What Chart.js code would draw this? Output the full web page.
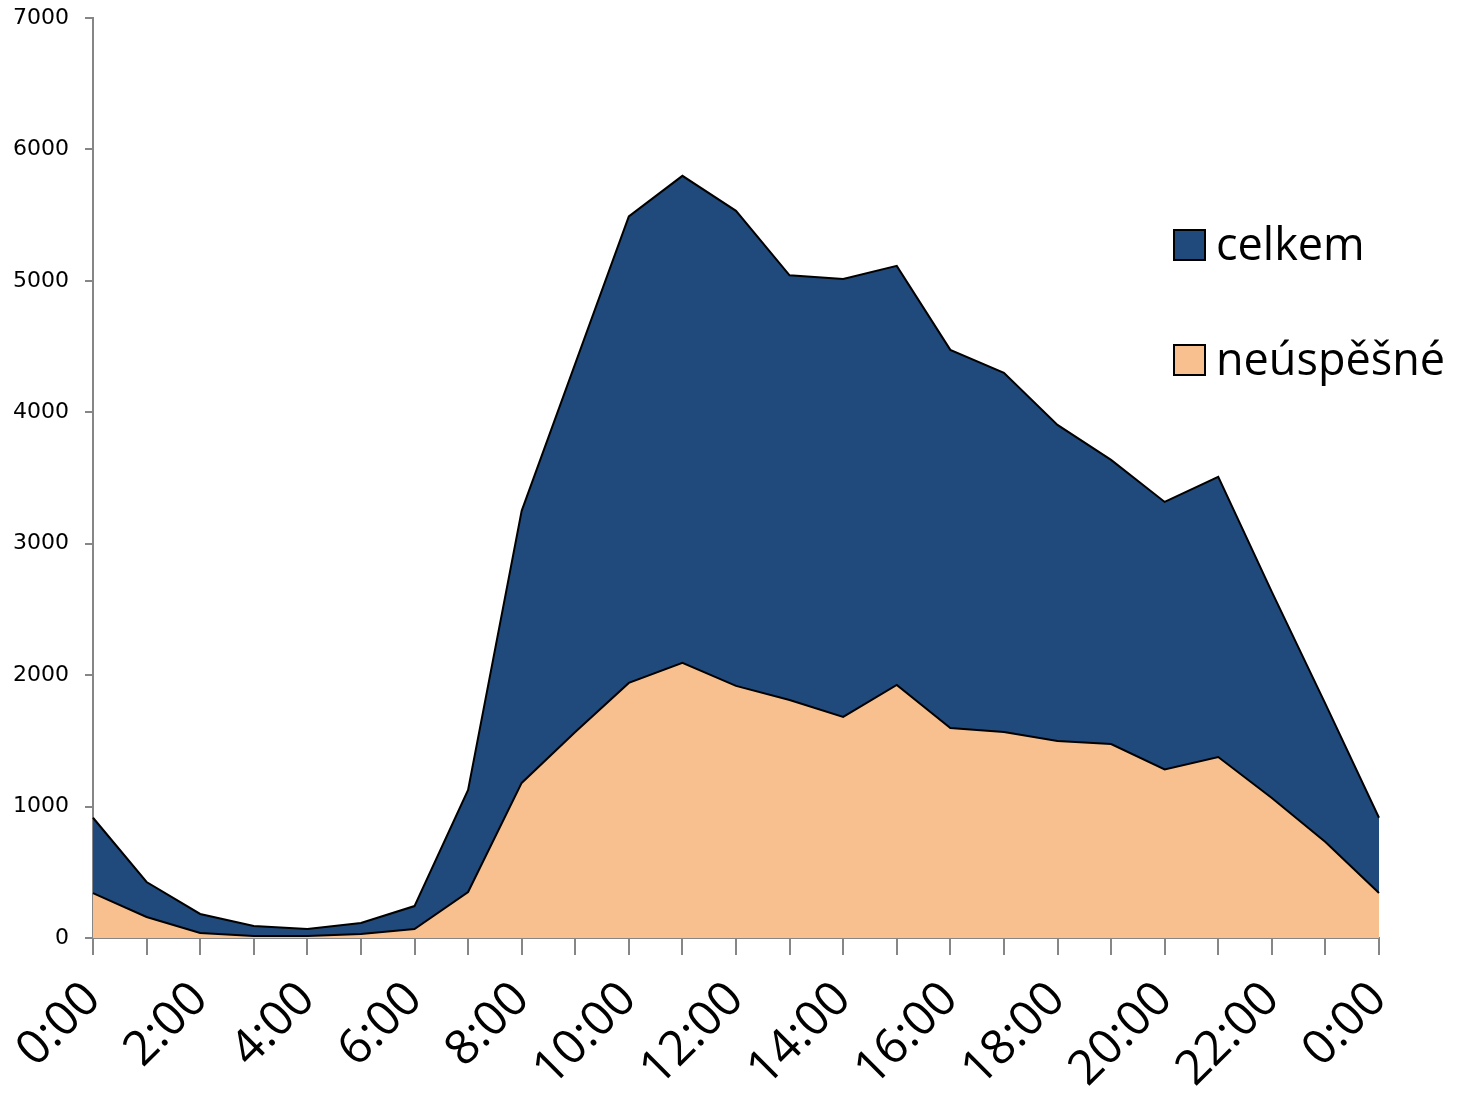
<!DOCTYPE html>
<html lang="cs">
<head>
  <meta charset="UTF-8" />
  <title>Hodinové rozložení</title>
  <script src="https://cdn.jsdelivr.net/npm/chart.js"></script>
  <style>
    body {
      margin: 0;
      background: #ffffff;
    }
    #wrap {
      width: 1461px;
      height: 1094px;
    }
  </style>
</head>
<body>

<div id="wrap">
  <canvas id="hodiny" width="1461" height="1094"></canvas>
</div>

<script>
  // hourly buckets, 0:00 through the next 0:00
  const hodiny = ['0:00', '1:00', '2:00', '3:00', '4:00', '5:00', '6:00', '7:00', '8:00', '9:00',
                  '10:00', '11:00', '12:00', '13:00', '14:00', '15:00', '16:00', '17:00', '18:00',
                  '19:00', '20:00', '21:00', '22:00', '23:00', '0:00'];
  const celkem = [915, 426, 183, 91, 68, 114, 243, 1126, 3250, 4370, 5490, 5799, 5533, 5042,
                  5015, 5114, 4475, 4300, 3904, 3638, 3318, 3508, 2633, 1781, 915];
  const neuspesne = [342, 160, 38, 15, 15, 30, 68, 350, 1180, 1568, 1941, 2093, 1918, 1811,
                     1682, 1925, 1598, 1568, 1499, 1476, 1282, 1377, 1065, 731, 342];
  const yTicks = [0, 1000, 2000, 3000, 4000, 5000, 6000, 7000];

  const axisGray = '#868686';

  // legend drawn inside the plot, top right
  const legendaUvnitr = {
    id: 'legendaUvnitr',
    afterDraw(chart) {
      const ctx = chart.ctx;
      const rows = [
        { ds: chart.data.datasets[0], y: 245 },
        { ds: chart.data.datasets[1], y: 360 }
      ];
      ctx.save();
      ctx.font = '45px "Open Sans"';
      ctx.textBaseline = 'alphabetic';
      rows.forEach(r => {
        ctx.fillStyle = r.ds.backgroundColor;
        ctx.fillRect(1174, r.y - 15, 31, 30);
        ctx.lineWidth = 2;
        ctx.strokeStyle = '#000';
        ctx.strokeRect(1174, r.y - 15, 31, 30);
        ctx.fillStyle = '#000';
        ctx.fillText(r.ds.label, 1216, r.y + 15);
      });
      ctx.restore();
    }
  };

  new Chart(document.getElementById('hodiny'), {
    type: 'line',
    data: {
      labels: hodiny,
      datasets: [
        {
          label: 'celkem',
          data: celkem,
          backgroundColor: '#214a7c',
          borderColor: '#000',
          borderWidth: 2,
          fill: 'origin',
          pointRadius: 0,
          tension: 0,
          order: 2
        },
        {
          label: 'neúspěšné',
          data: neuspesne,
          backgroundColor: '#f9c08f',
          borderColor: '#000',
          borderWidth: 2,
          fill: 'origin',
          pointRadius: 0,
          tension: 0,
          order: 1
        }
      ]
    },
    options: {
      responsive: false,
      animation: false,
      layout: {
        autoPadding: false,
        padding: { top: 18, right: 82, left: 0, bottom: 0 }
      },
      plugins: {
        legend: { display: false },
        tooltip: { enabled: false }
      },
      scales: {
        x: {
          offset: false,
          border: { color: axisGray, width: 2 },
          grid: { drawOnChartArea: false, color: axisGray, lineWidth: 2, tickLength: 17 },
          ticks: {
            autoSkip: false,
            maxRotation: 45,
            minRotation: 45,
            padding: 16,
            color: '#000',
            font: { family: '"Open Sans"', size: 48 },
            callback: (v, i) => (i % 2 === 0 ? hodiny[i] : '')
          },
          afterFit: s => {
            s.height = 156;
            s.paddingLeft = 0;
            s.paddingRight = 0;
          }
        },
        y: {
          min: 0,
          max: 7000,
          border: { color: axisGray, width: 2 },
          grid: { drawOnChartArea: false, color: axisGray, lineWidth: 2, tickLength: 8 },
          afterBuildTicks: s => { s.ticks = yTicks.map(v => ({ value: v })); },
          ticks: {
            padding: 16,
            color: '#000',
            font: { family: '"DejaVu Sans"', size: 22 },
            callback: v => String(v)
          },
          afterFit: s => {
            s.width = 93;
            s.paddingTop = 0;
            s.paddingBottom = 0;
          }
        }
      }
    },
    plugins: [legendaUvnitr]
  });
</script>

</body>
</html>
